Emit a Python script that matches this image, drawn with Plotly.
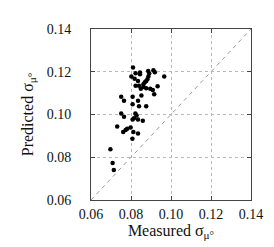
import plotly.graph_objects as go

measured = [0.0810, 0.0802, 0.0823, 0.0845, 0.0845, 0.0818, 0.0835, 0.0823, 0.0840, 0.0849,
            0.0862, 0.0869, 0.0876, 0.0882, 0.0886, 0.0891, 0.0887, 0.0896, 0.0876, 0.0862,
            0.0912, 0.0919, 0.0909, 0.0916, 0.0933, 0.0966, 0.0852, 0.0876,
            0.0751, 0.0765, 0.0808, 0.0835, 0.0808, 0.0840, 0.0751, 0.0765, 0.0822, 0.0828,
            0.0815, 0.0808, 0.0835, 0.0859, 0.0731, 0.0761, 0.0773, 0.0781, 0.0798, 0.0812,
            0.0835, 0.0807, 0.0697, 0.0708, 0.0714]
predicted = [0.1220, 0.1178, 0.1193, 0.1196, 0.1188, 0.1167, 0.1157, 0.1135, 0.1135, 0.1120,
             0.1142, 0.1151, 0.1157, 0.1165, 0.1204, 0.1192, 0.1178, 0.1120, 0.1123, 0.1129,
             0.1207, 0.1198, 0.1115, 0.1095, 0.1132, 0.1178, 0.1089, 0.1039,
             0.1083, 0.1064, 0.1083, 0.1064, 0.1048, 0.1039, 0.1005, 0.0989, 0.1005, 0.0995,
             0.0983, 0.0977, 0.0977, 0.0971, 0.0944, 0.0918, 0.0927, 0.0933, 0.0939, 0.0918,
             0.0911, 0.0887, 0.0837, 0.0773, 0.0740]

diag = [0.06, 0.14]
tick_vals = [0.06, 0.08, 0.10, 0.12, 0.14]
tick_text = ["0.06", "0.08", "0.10", "0.12", "0.14"]

font = "Liberation Serif"

fig = go.Figure()
fig.add_trace(go.Scatter(x=diag, y=diag, mode="lines",
                         line=dict(color="#9a9a9a", width=1, dash="4px,4px"),
                         showlegend=False, hoverinfo="skip"))
fig.add_trace(go.Scatter(x=measured, y=predicted, mode="markers",
                         marker=dict(color="black", size=4.5),
                         showlegend=False))

axis_common = dict(
    range=[0.06, 0.14], tickvals=tick_vals, ticktext=tick_text,
    showgrid=True, gridcolor="#b8b8b8", griddash="dot", gridwidth=1,
    zeroline=False, showline=True, linecolor="#444444", linewidth=1, mirror="ticks",
    ticks="inside", ticklen=4, tickcolor="#444444",
    tickfont=dict(family=font, size=14, color="#111111"),
)

fig.update_layout(
    width=274, height=247,
    margin=dict(l=83, r=31, t=21, b=55),
    paper_bgcolor="white", plot_bgcolor="white",
    xaxis=dict(**axis_common, ticklabelstandoff=1,
               title=dict(text="Measured σ<sub>μ°</sub>", font=dict(family=font, size=16, color="#111111"),
                          standoff=3)),
    yaxis=dict(**axis_common, ticklabelstandoff=16,
               title=dict(text="Predicted σ<sub>μ°</sub>", font=dict(family=font, size=16, color="#111111"),
                          standoff=9)),
)

fig.write_html("out.html")
